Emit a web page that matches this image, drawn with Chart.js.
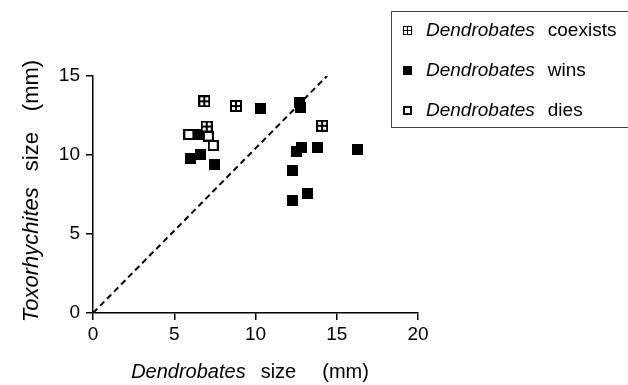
<!DOCTYPE html>
<html><head><meta charset="utf-8">
<script src="https://cdn.jsdelivr.net/npm/chart.js@4"></script>
<style>html,body{margin:0;padding:0;background:#fff}#wrap{width:628px;height:385px;position:relative}</style>
</head><body><div id="wrap"><canvas id="c" width="628" height="385"></canvas></div>
<script>
// ---- data ----
const xTicks = [0, 5, 10, 15, 20];
const yTicks = [0, 5, 10, 15];
const coexistsX = [6.85, 8.8, 7.0, 14.1];
const coexistsY = [13.4, 13.1, 11.8, 11.85];
const winsX = [6.0, 6.6, 7.5, 6.4, 10.3, 12.7, 12.75, 12.55, 12.85, 13.8, 16.3, 12.3, 13.2, 12.3];
const winsY = [9.8, 10.05, 9.4, 11.3, 12.95, 13.35, 13.0, 10.25, 10.45, 10.45, 10.35, 9.0, 7.55, 7.1];
const diesX = [5.9, 7.1, 7.4];
const diesY = [11.3, 11.2, 10.6];
const diagX = [0, 14.4];
const diagY = [0, 15];
const legendNames = ['coexists', 'wins', 'dies'];

const pts = (xs, ys) => xs.map((x, i) => ({x: x, y: ys[i]}));

function makeMarker(kind, s, b, bar) {
  const c = document.createElement('canvas');
  c.width = s; c.height = s;
  const g = c.getContext('2d');
  g.fillStyle = '#000';
  g.fillRect(0, 0, s, s);
  if (kind !== 'filled') {
    g.fillStyle = '#fff';
    g.fillRect(b, b, s - 2 * b, s - 2 * b);
    if (kind === 'hatched') {
      g.fillStyle = '#000';
      const m = Math.round((s - bar) / 2);
      g.fillRect(m, 0, bar, s);
      g.fillRect(0, m, s, bar);
    }
  }
  return c;
}
const mHatch = makeMarker('hatched', 12, 2, 2);
const mFill = makeMarker('filled', 11, 2, 2);
const mOpen = makeMarker('open', 11, 2, 2);
const lHatch = makeMarker('hatched', 9, 1, 1);
const lFill = makeMarker('filled', 9, 2, 2);
const lOpen = makeMarker('open', 9, 2, 2);

const FAM = '"Liberation Sans", Arial, Helvetica, sans-serif';

// parts: {t: text, it: italic, gap: extra px after}
function drawMixed(ctx, parts, x, y, size, align) {
  let w = 0;
  const ws = parts.map(p => {
    ctx.font = (p.it ? 'italic ' : '') + size + 'px ' + FAM;
    const m = ctx.measureText(p.t).width; w += m + (p.gap || 0); return m;
  });
  let cx = align === 'center' ? x - w / 2 : x;
  parts.forEach((p, i) => {
    ctx.font = (p.it ? 'italic ' : '') + size + 'px ' + FAM;
    ctx.fillText(p.t, cx, y);
    cx += ws[i] + (p.gap || 0);
  });
}

const textPlugin = {
  id: 'texts',
  afterDraw(chart) {
    const ctx = chart.ctx;
    ctx.save();
    ctx.fillStyle = '#000';
    ctx.textBaseline = 'middle';
    ctx.textAlign = 'left';
    // x title
    drawMixed(ctx, [{t: 'Dendrobates', it: true, gap: 15}, {t: 'size', gap: 26}, {t: '(mm)'}], 250, 372, 20, 'center');
    // y title
    ctx.save();
    ctx.translate(32, 191);
    ctx.rotate(-Math.PI / 2);
    drawMixed(ctx, [{t: 'Toxorhychites', it: true, gap: 16}, {t: 'size', gap: 21}, {t: '(mm)'}], 0, 0, 22, 'center');
    ctx.restore();
    // legend box
    ctx.strokeStyle = '#444';
    ctx.lineWidth = 1;
    ctx.strokeRect(391.5, 11.5, 260, 116);
    const marks = [lHatch, lFill, lOpen];
    const rows = [31, 71, 111];
    legendNames.forEach((n, i) => {
      const mk = marks[i];
      ctx.drawImage(mk, Math.round(407 - mk.width / 2), Math.round(rows[i] - 1 - mk.height / 2));
      drawMixed(ctx, [{t: 'Dendrobates', it: true, gap: 13}, {t: n}], 426, rows[i], 19, 'left');
    });
    ctx.restore();
  }
};

new Chart(document.getElementById('c'), {
  type: 'scatter',
  data: {
    datasets: [
      {label: 'diag', type: 'line', data: pts(diagX, diagY), borderColor: '#000', borderWidth: 2,
       borderDash: [6, 4], pointRadius: 0, fill: false, order: 10},
      {label: 'wins', data: pts(winsX, winsY), pointStyle: mFill, order: 3},
      {label: 'dies', data: pts(diesX, diesY), pointStyle: mOpen, order: 2},
      {label: 'coexists', data: pts(coexistsX, coexistsY), pointStyle: mHatch, order: 1}
    ]
  },
  options: {
    responsive: false,
    devicePixelRatio: 1,
    animation: false,
    layout: {padding: {left: 0, top: 76, right: 210, bottom: 0}},
    plugins: {legend: {display: false}, tooltip: {enabled: false}},
    scales: {
      x: {
        type: 'linear', min: 0, max: 20,
        afterBuildTicks(s) { s.ticks = xTicks.map(v => ({value: v})); },
        afterFit(s) { s.height = 72; },
        ticks: {color: '#000', font: {family: FAM, size: 19}, padding: 3},
        grid: {drawOnChartArea: false, drawTicks: true, tickLength: 7, color: '#000', lineWidth: 1.5},
        border: {display: true, color: '#000', width: 1.5}
      },
      y: {
        type: 'linear', min: 0, max: 15,
        afterBuildTicks(s) { s.ticks = yTicks.map(v => ({value: v})); },
        afterFit(s) { s.width = 93; },
        ticks: {color: '#000', font: {family: FAM, size: 19}, padding: 6},
        grid: {drawOnChartArea: false, drawTicks: true, tickLength: 7, color: '#000', lineWidth: 1.5},
        border: {display: true, color: '#000', width: 1.5}
      }
    }
  },
  plugins: [textPlugin]
});
</script>
</body></html>
